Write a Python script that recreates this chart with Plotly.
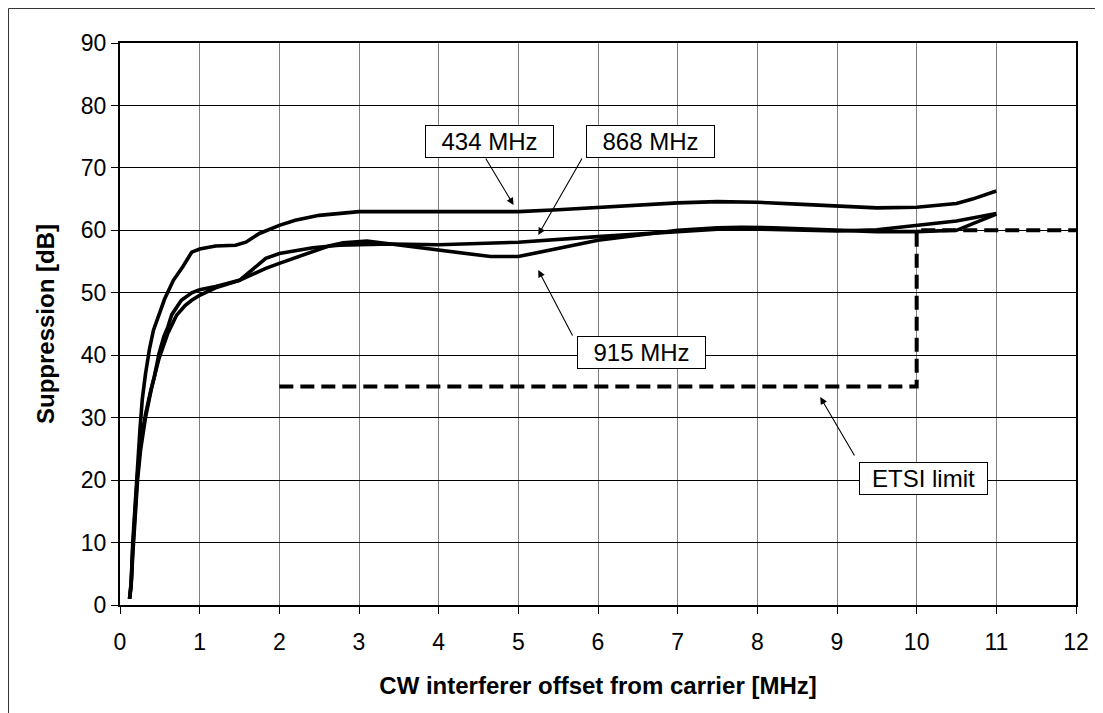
import plotly.graph_objects as go

# ---- data ----
x_434 = [0.12, 0.14, 0.16, 0.19, 0.22, 0.25, 0.28, 0.32, 0.37, 0.42, 0.5, 0.56, 0.67, 0.79, 0.9, 1.0,
         1.2, 1.45, 1.58, 1.75, 2.0, 2.2, 2.5, 3.0, 4.0, 5.0, 5.5, 6.0, 6.5, 7.0, 7.5, 7.8, 8.0, 8.5,
         9.0, 9.5, 10.0, 10.3, 10.5, 10.7, 11.0]
y_434 = [1, 3.5, 10, 17, 22, 28, 33, 37, 41, 44, 47, 49, 52, 54.2, 56.5, 57,
         57.5, 57.6, 58.1, 59.5, 60.8, 61.6, 62.4, 63.0, 63.0, 63.0, 63.3, 63.7, 64.1, 64.4, 64.6, 64.6, 64.5, 64.2,
         63.9, 63.6, 63.7, 64.0, 64.3, 65.0, 66.3]

x_868 = [0.12, 0.14, 0.16, 0.19, 0.22, 0.26, 0.32, 0.38, 0.43, 0.49, 0.55, 0.6, 0.65, 0.77, 0.9, 1.0,
         1.2, 1.5, 1.83, 2.0, 2.42, 2.75, 3.0, 3.4, 4.0, 5.0, 6.0, 7.0, 7.5, 8.0, 9.0, 9.5, 10.0, 10.5, 11.0]
y_868 = [1, 3.5, 9, 15, 21, 26, 30.5, 34, 36.5, 40.3, 43, 44.5, 46.5, 48.8, 50, 50.5,
         51, 52, 55.5, 56.3, 57.2, 57.6, 57.7, 57.8, 57.7, 58.1, 59.0, 59.8, 60.2, 60.2, 59.9, 60.1, 60.8, 61.5, 62.7]

x_915 = [0.12, 0.14, 0.16, 0.19, 0.22, 0.26, 0.32, 0.4, 0.49, 0.6, 0.71, 0.82, 0.9, 1.0, 1.2, 1.5,
         1.83, 2.0, 2.42, 2.62, 2.8, 3.1, 3.4, 4.0, 4.65, 5.0, 5.48, 6.0, 6.5, 7.0, 7.5, 7.8, 8.2, 9.0,
         9.5, 10.0, 10.5, 11.0]
y_915 = [1, 3, 8, 14, 20, 25, 30, 35, 39.5, 43.5, 46.4, 48, 48.8, 49.6, 50.8, 52,
         53.9, 54.7, 56.6, 57.5, 58.0, 58.3, 57.8, 56.8, 55.8, 55.8, 57.0, 58.4, 59.2, 60.0, 60.4, 60.5, 60.4, 60.0,
         59.8, 59.8, 60.0, 62.6]

x_etsi = [2, 10, 10, 12]
y_etsi = [35, 35, 60, 60]

x_ticks = list(range(0, 13))
y_ticks = list(range(0, 91, 10))

FONT = "Liberation Sans, Arial, sans-serif"

fig = go.Figure()
for xs, ys, name in [(x_434, y_434, "434 MHz"), (x_868, y_868, "868 MHz"), (x_915, y_915, "915 MHz")]:
    fig.add_trace(go.Scatter(x=xs, y=ys, mode="lines", name=name,
                             line=dict(color="black", width=3.6)))
fig.add_trace(go.Scatter(x=x_etsi, y=y_etsi, mode="lines", name="ETSI limit",
                         line=dict(color="black", width=4, dash="14px,7px")))

# arrows (tail -> head in data coords)
arrows = [
    (4.58, 71.75, 4.94, 64.06),
    (5.81, 71.75, 5.25, 59.26),
    (5.69, 42.9, 5.25, 53.65),
    (9.23, 23.7, 8.79, 33.3),
]
for tx, ty, hx, hy in arrows:
    fig.add_annotation(x=hx, y=hy, ax=tx, ay=ty, axref="x", ayref="y", xref="x", yref="y",
                       text="", showarrow=True, arrowhead=2, arrowsize=1.3, arrowwidth=1.1,
                       arrowcolor="black")

labels = [
    ("434 MHz", 4.64, 74.3),
    ("868 MHz", 6.66, 74.3),
    ("915 MHz", 6.55, 40.4),
    ("ETSI limit", 10.09, 20.2),
]
for txt, lx, ly in labels:
    fig.add_annotation(x=lx, y=ly, xref="x", yref="y", text=txt, showarrow=False,
                       font=dict(family=FONT, size=24, color="black"),
                       bgcolor="white", bordercolor="black", borderwidth=1, borderpad=3,
                       width=121, height=25)

# outer border
fig.add_shape(type="rect", xref="paper", yref="paper", x0=-0.1166, y0=-0.2, x1=1.04, y1=1.0614,
              line=dict(color="#333333", width=1), layer="below")

fig.update_layout(
    width=1095, height=705,
    margin=dict(l=112, r=27, t=35, b=108),
    paper_bgcolor="white", plot_bgcolor="white",
    showlegend=False,
    font=dict(family=FONT, color="black"),
)
fig.update_xaxes(range=[0, 12], tickvals=x_ticks, ticks="outside", ticklen=7, tickcolor="black",
                 tickfont=dict(size=23, family=FONT), showgrid=True, gridcolor="#808080", gridwidth=1,
                 showline=True, linecolor="black", linewidth=2, mirror=True, zeroline=False,
                 ticklabelstandoff=8,
                 title=dict(text="<b>CW interferer offset from carrier [MHz]</b>", font=dict(size=24, family=FONT),
                            standoff=24))
fig.update_yaxes(range=[0, 90], tickvals=y_ticks, ticks="outside", ticklen=7, tickcolor="black",
                 tickfont=dict(size=23, family=FONT), showgrid=True, gridcolor="black", gridwidth=1,
                 showline=True, linecolor="black", linewidth=2, mirror=True, zeroline=False,
                 ticklabelstandoff=0,
                 title=dict(text="<b>Suppression [dB]</b>", font=dict(size=24, family=FONT), standoff=19))

fig.write_html("out.html")
